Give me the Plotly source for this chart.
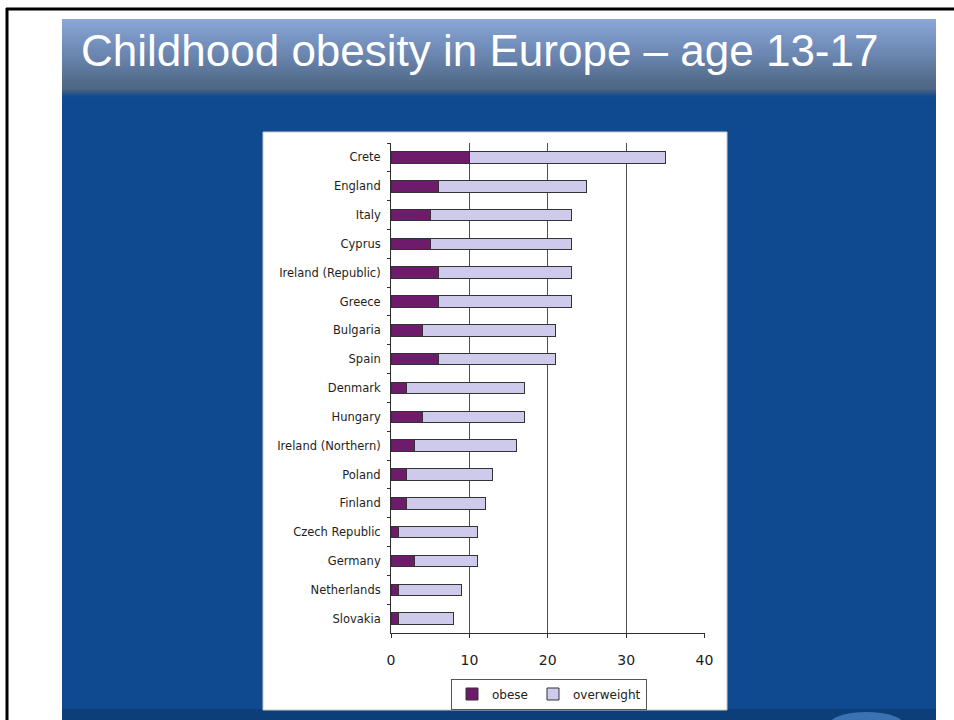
import plotly.graph_objects as go

# ---- data ----
countries = ["Crete", "England", "Italy", "Cyprus", "Ireland (Republic)", "Greece",
             "Bulgaria", "Spain", "Denmark", "Hungary", "Ireland (Northern)", "Poland",
             "Finland", "Czech Republic", "Germany", "Netherlands", "Slovakia"]
obese = [10, 6, 5, 5, 6, 6, 4, 6, 2, 4, 3, 2, 2, 1, 3, 1, 1]
overweight = [25, 19, 18, 18, 17, 17, 17, 15, 15, 13, 13, 11, 10, 10, 8, 8, 7]
x_ticks = [0, 10, 20, 30, 40]
series_names = ["obese", "overweight"]
title_text = "Childhood obesity in Europe \u2013 age 13-17"

W, H = 954, 720


def px(x):
    return x / W


def py(y):
    return 1 - y / H


def hex2rgb(h):
    h = h.lstrip("#")
    return tuple(int(h[i:i + 2], 16) for i in (0, 2, 4))


def lerp(c1, c2, t):
    a, b = hex2rgb(c1), hex2rgb(c2)
    return "rgb(%d,%d,%d)" % tuple(round(a[i] + (b[i] - a[i]) * t) for i in range(3))


shapes = []


def rect(x0, y0, x1, y1, fill, line_color=None, line_width=0, layer="below"):
    shapes.append(dict(type="rect", xref="paper", yref="paper",
                       x0=px(x0), x1=px(x1), y0=py(y1), y1=py(y0),
                       fillcolor=fill, layer=layer,
                       line=dict(width=line_width, color=line_color or fill)))


# slide blue background
rect(62, 19, 936, 720, "#0F4A91")
# darker bottom strip
rect(62, 709, 936, 720, "#0C3F7A")
# title gradient band
stops = [(19, "#8BA7D5"), (40, "#7793C1"), (60, "#6681A9"), (80, "#546D8D"),
         (89, "#4F6585"), (93, "#2E5587"), (97, "#0F4A91")]
for i in range(len(stops) - 1):
    ya, ca = stops[i]
    yb, cb = stops[i + 1]
    steps = max(1, (yb - ya))
    for s in range(steps):
        y0 = ya + (yb - ya) * s / steps
        y1 = ya + (yb - ya) * (s + 1) / steps + 0.6
        rect(62, y0, 936, y1, lerp(ca, cb, (s + 0.5) / steps))

# decorative ellipse bottom right
shapes.append(dict(type="circle", xref="paper", yref="paper",
                   x0=px(828), x1=px(905), y0=py(740), y1=py(712),
                   fillcolor="#3B72B2", line=dict(width=0), layer="below"))

# white chart panel
rect(263, 132, 727, 710, "#FFFFFF", "#C8C8C8", 1)

# black frame lines
shapes.append(dict(type="line", xref="paper", yref="paper", x0=px(6), x1=1,
                   y0=py(9), y1=py(9), line=dict(color="#000000", width=3), layer="above"))
shapes.append(dict(type="line", xref="paper", yref="paper", x0=px(7), x1=px(7),
                   y0=py(8), y1=0, line=dict(color="#000000", width=3), layer="above"))

fig = go.Figure()
fig.add_trace(go.Bar(y=countries, x=obese, name=series_names[0], orientation="h",
                     marker=dict(color="#6E1B6C", line=dict(color="#333333", width=1))))
fig.add_trace(go.Bar(y=countries, x=overweight, name=series_names[1], orientation="h",
                     marker=dict(color="#CDCAEC", line=dict(color="#333333", width=1))))

fig.update_layout(
    width=W, height=H,
    template="none",
    margin=dict(l=0, r=0, t=0, b=0),
    paper_bgcolor="#FFFFFF",
    plot_bgcolor="rgba(0,0,0,0)",
    barmode="stack",
    bargap=0.6,
    font=dict(family="DejaVu Sans, Arial, sans-serif", color="#222222"),
    shapes=shapes,
    showlegend=True,
    legend=dict(orientation="h", x=px(549), xanchor="center", y=py(694), yanchor="middle",
                bgcolor="#FFFFFF", bordercolor="#555555", borderwidth=1,
                font=dict(family="DejaVu Sans, Arial, sans-serif", size=12, color="#222222"),
                itemwidth=30, traceorder="normal"),
    xaxis=dict(domain=[px(391), px(704.5)], range=[0, 40], tickvals=x_ticks,
               showgrid=True, gridcolor="#505050", gridwidth=1,
               showline=True, linecolor="#303030", linewidth=1,
               ticks="outside", ticklen=4, tickcolor="#303030",
               ticklabelstandoff=10,
               tickfont=dict(family="DejaVu Sans, Arial, sans-serif", size=14, color="#222222"),
               zeroline=False, automargin=False, fixedrange=True),
    yaxis=dict(domain=[py(633), py(143)], autorange="reversed",
               categoryorder="array", categoryarray=countries,
               showline=True, linecolor="#303030", linewidth=1,
               ticks="outside", ticklen=3, tickcolor="#303030", tickson="boundaries",
               ticklabelstandoff=7,
               tickfont=dict(family="DejaVu Sans, Arial, sans-serif", size=11.5, color="#1E1E1E"),
               showgrid=False, automargin=False, fixedrange=True),
    annotations=[dict(text=title_text, xref="paper", yref="paper",
                      x=px(79), y=py(51), xanchor="left", yanchor="middle",
                      showarrow=False,
                      font=dict(family="Liberation Sans, Arial, sans-serif",
                                size=44, color="#FFFFFF"))],
)

fig.write_html("out.html", config={"displayModeBar": False},
               post_script="document.body.style.margin='0';")
